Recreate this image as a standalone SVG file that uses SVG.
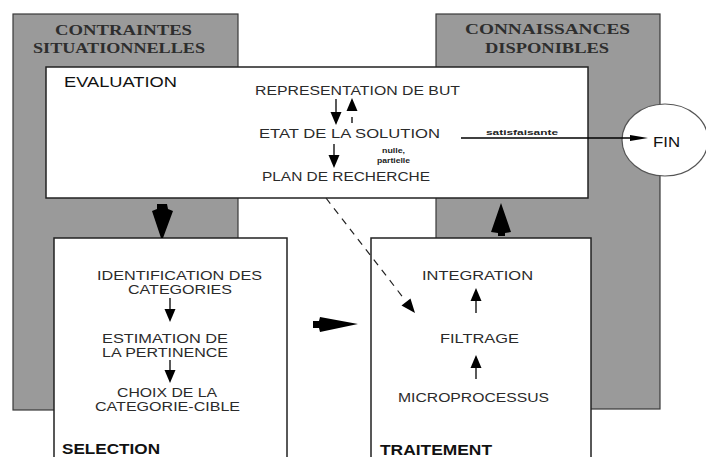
<svg xmlns="http://www.w3.org/2000/svg" width="706" height="457" viewBox="0 0 706 457">
<style>
.bg{fill:#9a9a9a;stroke:#3a3a3a;stroke-width:1.2}
.box{fill:#fff;stroke:#222;stroke-width:1.5}
.hd{font-family:"Liberation Serif",serif;font-weight:bold;font-size:15px;fill:#2e2e2e}
.t{font-family:"Liberation Sans",Arial,sans-serif;font-size:12.5px;fill:#2a2a2a}
.ttl{font-family:"Liberation Sans",Arial,sans-serif;font-size:14.5px;fill:#111}
.tb{font-family:"Liberation Sans",Arial,sans-serif;font-size:14.5px;font-weight:bold;fill:#111}
.sm{font-family:"Liberation Sans",Arial,sans-serif;font-size:8px;font-weight:bold;fill:#222}
.ln{stroke:#000;stroke-width:1.3;fill:none}
.ah{fill:#000}
</style>
<g id="contraintes">
<rect class="bg" x="13" y="14" width="225" height="396"/>
<text class="hd" x="55" y="35" textLength="137" lengthAdjust="spacingAndGlyphs">CONTRAINTES</text>
<text class="hd" x="33" y="53" textLength="172" lengthAdjust="spacingAndGlyphs">SITUATIONNELLES</text>
</g>
<g id="connaissances">
<rect class="bg" x="436" y="14" width="224" height="395"/>
<text class="hd" x="465" y="34" textLength="165" lengthAdjust="spacingAndGlyphs">CONNAISSANCES</text>
<text class="hd" x="485" y="53" textLength="124" lengthAdjust="spacingAndGlyphs">DISPONIBLES</text>
</g>
<g id="evaluation">
<rect class="box" x="46" y="67" width="542" height="131"/>
<text class="ttl" x="64" y="87" textLength="113" lengthAdjust="spacingAndGlyphs">EVALUATION</text>
<text class="t" x="255" y="95" textLength="205" lengthAdjust="spacingAndGlyphs">REPRESENTATION DE BUT</text>
<text class="t" x="259" y="138" textLength="181" lengthAdjust="spacingAndGlyphs">ETAT DE LA SOLUTION</text>
<text class="t" x="262" y="181" textLength="168" lengthAdjust="spacingAndGlyphs">PLAN DE RECHERCHE</text>
<text class="sm" x="382" y="153" textLength="23" lengthAdjust="spacingAndGlyphs">nulle,</text>
<text class="sm" x="377" y="163" textLength="33" lengthAdjust="spacingAndGlyphs">partielle</text>
<line class="ln" x1="336" y1="99" x2="336" y2="113"/>
<polygon class="ah" points="330.5,112 341.5,112 336,125"/>
<polygon class="ah" points="346.5,111 357.5,111 352,98"/>
<line class="ln" x1="352" y1="117" x2="352" y2="123"/>
<line class="ln" x1="334" y1="144" x2="334" y2="156"/>
<polygon class="ah" points="328.5,155 339.5,155 334,168"/>
</g>
<g id="selection">
<rect class="box" x="54" y="238" width="233" height="235"/>
<text class="t" x="97" y="280" textLength="165" lengthAdjust="spacingAndGlyphs">IDENTIFICATION DES</text>
<text class="t" x="128" y="294" textLength="104" lengthAdjust="spacingAndGlyphs">CATEGORIES</text>
<text class="t" x="102" y="343" textLength="126" lengthAdjust="spacingAndGlyphs">ESTIMATION DE</text>
<text class="t" x="102" y="357" textLength="126" lengthAdjust="spacingAndGlyphs">LA PERTINENCE</text>
<text class="t" x="117" y="397" textLength="100" lengthAdjust="spacingAndGlyphs">CHOIX DE LA</text>
<text class="t" x="95" y="411" textLength="145" lengthAdjust="spacingAndGlyphs">CATEGORIE-CIBLE</text>
<text class="tb" x="62" y="454" textLength="98" lengthAdjust="spacingAndGlyphs">SELECTION</text>
<line class="ln" x1="170" y1="298" x2="170" y2="310"/>
<polygon class="ah" points="164.5,309 175.5,309 170,322"/>
<line class="ln" x1="170" y1="360" x2="170" y2="371"/>
<polygon class="ah" points="164.5,370 175.5,370 170,383"/>
</g>
<g id="traitement">
<rect class="box" x="371" y="238" width="220" height="235"/>
<text class="t" x="422" y="280" textLength="111" lengthAdjust="spacingAndGlyphs">INTEGRATION</text>
<text class="t" x="440" y="343" textLength="79" lengthAdjust="spacingAndGlyphs">FILTRAGE</text>
<text class="t" x="398" y="402" textLength="151" lengthAdjust="spacingAndGlyphs">MICROPROCESSUS</text>
<text class="tb" x="380" y="455" textLength="112" lengthAdjust="spacingAndGlyphs">TRAITEMENT</text>
<line class="ln" x1="476" y1="313" x2="476" y2="300"/>
<polygon class="ah" points="470.5,301 481.5,301 476,288"/>
<line class="ln" x1="476" y1="379" x2="476" y2="367"/>
<polygon class="ah" points="470.5,368 481.5,368 476,355"/>
</g>
<g id="fin">
<ellipse cx="665" cy="140" rx="43" ry="36" fill="#fff" stroke="#555" stroke-width="1.2"/>
<text class="ttl" x="653" y="147" font-size="15.5" textLength="27" lengthAdjust="spacingAndGlyphs">FIN</text>
</g>
<g id="connectors">
<line class="ln" x1="461" y1="138" x2="632" y2="138"/>
<polygon class="ah" points="630,135 648,138 630,141"/>
<text class="sm" x="486" y="135" font-size="9" textLength="72" lengthAdjust="spacingAndGlyphs">satisfaisante</text>
<polygon class="ah" points="157,204 167,204 168,209 173,211 163,238 161,238 152,211 157,209"/>
<polygon class="ah" points="501,203 511,232 505,233 505,236 498,236 498,233 491,232"/>
<polygon class="ah" points="313,321 319,321 320,317 358,324 320,332 319,328 313,328"/>
<line x1="326" y1="198" x2="405" y2="300" stroke="#222" stroke-width="1.2" stroke-dasharray="7 6"/>
<polygon class="ah" points="415,313 401.5,305.5 410.5,298.5"/>
</g>
</svg>
